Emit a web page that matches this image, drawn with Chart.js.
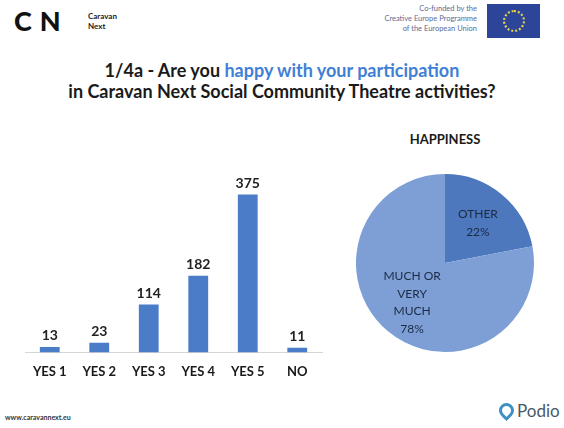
<!DOCTYPE html>
<html>
<head>
<meta charset="utf-8">
<script src="https://cdn.jsdelivr.net/npm/chart.js@4.4.1/dist/chart.umd.min.js"></script>
<style>
  html, body { margin: 0; padding: 0; background: #fff; }
  body { width: 564px; height: 428px; position: relative; overflow: hidden; font-family: Lato, "Open Sans", sans-serif; color: #222; }
  .abs { position: absolute; }
  #logo { left: 14px; top: 6px; font-size: 27px; font-weight: 900; letter-spacing: 8px; color: #111; line-height: 30px; }
  #logoText { left: 88px; top: 11px; font-size: 8px; font-weight: 700; line-height: 10px; color: #222; }
  #cofund { right: 87px; top: 4px; font-size: 7.5px; line-height: 10px; text-align: right; color: #5c6b94; }
  #flag { left: 487px; top: 4px; width: 53px; height: 34px; background: #2c4598; }
  #flag div { position: absolute; left: 16px; top: 6px; width: 18px; height: 18px; border: 2px dotted #e8d64a; border-radius: 50%; }
  #title { left: 0; width: 564px; top: 60px; text-align: center; font-size: 18px; font-weight: 700; line-height: 21px; color: #1a1a1a; }
  #title span { color: #3f7fd6; }
  #footer { left: 5px; top: 413px; font-size: 7px; font-weight: 700; color: #333; }
  #podio { left: 499px; top: 400px; font-size: 17px; color: #485867; font-weight: 400; }
  #podio i { display: inline-block; width: 9px; height: 9px; border: 3px solid #3d8fc4; border-radius: 50% 50% 50% 0; transform: rotate(-45deg); margin-right: 3px; vertical-align: -1px; }
  #barWrap { left: 0; top: 160px; width: 340px; height: 233px; }
  #pieWrap { left: 350px; top: 168px; width: 190px; height: 190px; }
  #pieTitle { left: 350px; width: 190px; top: 131px; text-align: center; font-size: 13px; font-weight: 700; color: #1a1a1a; }
</style>
</head>
<body>
<div id="logo" class="abs">CN</div>
<div id="logoText" class="abs">Caravan<br>Next</div>
<div id="cofund" class="abs">Co-funded by the<br>Creative Europe Programme<br>of the European Union</div>
<div id="flag" class="abs"><div></div></div>
<div id="title" class="abs">1/4a - Are you <span>happy with your participation</span><br>in Caravan Next Social Community Theatre activities?</div>
<div id="barWrap" class="abs"><canvas id="bars"></canvas></div>
<div id="pieTitle" class="abs">HAPPINESS</div>
<div id="pieWrap" class="abs"><canvas id="pie"></canvas></div>
<div id="footer" class="abs">www.caravannext.eu</div>
<div id="podio" class="abs"><i></i>Podio</div>

<script>
const categories = ['YES 1', 'YES 2', 'YES 3', 'YES 4', 'YES 5', 'NO'];
const answers = [13, 23, 114, 182, 375, 11];

const pieLabels = [['OTHER', '22%'], ['MUCH OR', 'VERY', 'MUCH', '78%']];
const pieValues = [22, 78];

const fontFamily = 'Lato, "Open Sans", sans-serif';

// value labels above every bar
const barValues = {
    id: 'barValues',
    afterDatasetsDraw(chart) {
        const ctx = chart.ctx;
        const meta = chart.getDatasetMeta(0);
        ctx.save();
        ctx.font = 'bold 14px ' + fontFamily;
        ctx.fillStyle = '#222';
        ctx.textAlign = 'center';
        ctx.textBaseline = 'bottom';
        meta.data.forEach((bar, i) => {
            ctx.fillText(chart.data.datasets[0].data[i], bar.x, bar.y - 4);
        });
        ctx.restore();
    }
};

// text inside the slices
const sliceLabels = {
    id: 'sliceLabels',
    afterDatasetsDraw(chart) {
        const ctx = chart.ctx;
        const meta = chart.getDatasetMeta(0);
        ctx.save();
        ctx.font = '12px ' + fontFamily;
        ctx.fillStyle = '#1c2a44';
        ctx.textAlign = 'center';
        ctx.textBaseline = 'middle';
        meta.data.forEach((arc, i) => {
            const p = arc.getProps(['x', 'y', 'startAngle', 'endAngle', 'outerRadius'], true);
            const mid = (p.startAngle + p.endAngle) / 2;
            const r = p.outerRadius * 0.58;
            const lines = pieLabels[i];
            const lh = 17.5;
            const cx = p.x + Math.cos(mid) * r;
            const cy = p.y + Math.sin(mid) * r - (lines.length - 1) * lh / 2;
            lines.forEach((t, j) => ctx.fillText(t, cx, cy + j * lh));
        });
        ctx.restore();
    }
};

new Chart(document.getElementById('bars'), {
    type: 'bar',
    data: {
        labels: categories,
        datasets: [{
            data: answers,
            backgroundColor: '#4a7cc7',
            barPercentage: 0.8,
            categoryPercentage: 0.5
        }]
    },
    options: {
        responsive: true,
        maintainAspectRatio: false,
        animation: false,
        layout: { padding: { left: 25, right: 18, top: 24, bottom: 1 } },
        scales: {
            y: { display: false, min: 0, max: 400 },
            x: {
                grid: { display: false, drawTicks: false },
                border: { display: true, color: '#d6d6d6', width: 1 },
                ticks: {
                    padding: 12,
                    color: '#1a1a1a',
                    font: { size: 13, weight: 'bold', family: fontFamily }
                }
            }
        },
        plugins: {
            legend: { display: false },
            tooltip: { enabled: false }
        }
    },
    plugins: [barValues]
});

new Chart(document.getElementById('pie'), {
    type: 'pie',
    data: {
        labels: ['OTHER', 'MUCH OR VERY MUCH'],
        datasets: [{
            data: pieValues,
            backgroundColor: ['#4d78bd', '#7d9fd6'],
            borderWidth: 0
        }]
    },
    options: {
        responsive: true,
        maintainAspectRatio: false,
        animation: false,
        layout: { padding: 6 },
        plugins: {
            legend: { display: false },
            tooltip: { enabled: false }
        }
    },
    plugins: [sliceLabels]
});
</script>
</body>
</html>
